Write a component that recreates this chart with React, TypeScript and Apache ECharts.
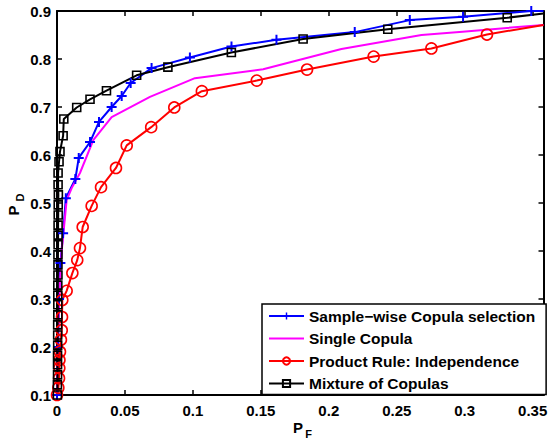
import { useEffect, useRef } from "react";
import * as echarts from "echarts";

const X_MAX = 0.358;
const Y_MIN = 0.1;
const Y_MAX = 0.9;
const X_INTERVAL = 0.05;
const Y_INTERVAL = 0.1;

const seriesNames = [
  "Sample\u2212wise Copula selection",
  "Single Copula",
  "Product Rule: Independence",
  "Mixture of Copulas",
];

const sampleWise: [number, number][] = [
  [0, 0.1], [0.0008, 0.2], [0.0015, 0.3], [0.0025, 0.375], [0.0045, 0.437],
  [0.0065, 0.51], [0.0135, 0.55], [0.016, 0.594], [0.0243, 0.627], [0.0309, 0.669],
  [0.0402, 0.7], [0.0476, 0.723], [0.0542, 0.75], [0.0696, 0.781], [0.0978, 0.803],
  [0.1284, 0.826], [0.1615, 0.84], [0.2191, 0.856], [0.2596, 0.881], [0.2988, 0.888],
  [0.349, 0.9], [0.358, 0.9],
];

const singleCopula: [number, number][] = [
  [0, 0.1], [0.0006, 0.2], [0.0015, 0.3], [0.0035, 0.402], [0.0071, 0.506],
  [0.0108, 0.531], [0.0169, 0.5625], [0.0267, 0.631], [0.0402, 0.679], [0.0684, 0.721],
  [0.1015, 0.76], [0.1517, 0.7785], [0.2093, 0.821], [0.2682, 0.85], [0.2985, 0.857],
  [0.358, 0.871],
];

const productRule: [number, number][] = [
  [0, 0.1], [0.001, 0.115], [0.0015, 0.135], [0.0017, 0.156], [0.0018, 0.173],
  [0.0022, 0.19], [0.0029, 0.215], [0.0035, 0.235], [0.0037, 0.2625], [0.0039, 0.298],
  [0.0071, 0.317], [0.0113, 0.354], [0.0149, 0.381], [0.0169, 0.406], [0.0189, 0.45],
  [0.0255, 0.494], [0.0324, 0.533], [0.0434, 0.573], [0.0513, 0.62], [0.0693, 0.658],
  [0.0863, 0.699], [0.1066, 0.733], [0.147, 0.755], [0.184, 0.778], [0.233, 0.805],
  [0.2755, 0.822], [0.3164, 0.851], [0.358, 0.871],
];

const mixture: [number, number][] = [
  [0.0003, 0.1], [0.0003, 0.121], [0.0004, 0.142], [0.0004, 0.163], [0.0004, 0.183],
  [0.0005, 0.204], [0.0005, 0.225], [0.0005, 0.246], [0.0006, 0.267], [0.0006, 0.288],
  [0.0006, 0.308], [0.0006, 0.329], [0.0007, 0.35], [0.0007, 0.371], [0.0007, 0.392],
  [0.0008, 0.413], [0.0008, 0.433], [0.0008, 0.454], [0.0009, 0.475], [0.0009, 0.496],
  [0.001, 0.517], [0.0008, 0.538], [0.0008, 0.5625], [0.0015, 0.586], [0.0022, 0.607],
  [0.0045, 0.64], [0.005, 0.675], [0.0145, 0.699], [0.0243, 0.716], [0.0364, 0.734],
  [0.0586, 0.766], [0.0816, 0.783], [0.1283, 0.8135], [0.1811, 0.8417], [0.2434, 0.862],
  [0.3313, 0.886], [0.358, 0.895],
];

const FONT = '"Liberation Sans", Arial, Helvetica, sans-serif';
const PLUS = "path://M4,0H6V4H10V6H6V10H4V6H0V4H4Z";

function toData(pts: [number, number][]) {
  return pts.map(([x, y]) =>
    x >= X_MAX - 1e-9 ? { value: [x, y], symbol: "none" } : [x, y]
  );
}

export default function App() {
  const ref = useRef<HTMLDivElement>(null);
  useEffect(() => {
    const chart = echarts.init(ref.current!, null, { renderer: "svg" });
    const axisCommon = {
      axisLine: { show: true, onZero: false, lineStyle: { color: "#000", width: 2 } },
      axisTick: { show: true, inside: true, length: 5, lineStyle: { color: "#000", width: 1.5 } },
      splitLine: { show: false },
    };
    const xFmt = (v: number) =>
      Math.abs(v / X_INTERVAL - Math.round(v / X_INTERVAL)) < 1e-6 ? String(Math.round(v * 100) / 100) : "";
    const yFmt = (v: number) => (Math.round(v * 10) / 10).toFixed(1);
    chart.setOption({
      animation: false,
      backgroundColor: "#fff",
      grid: { left: 57, top: 11, right: 10.5, bottom: 53, containLabel: false },
      xAxis: [
        {
          type: "value", min: 0, max: X_MAX, interval: X_INTERVAL, position: "bottom",
          ...axisCommon,
          axisLabel: { formatter: xFmt, margin: 8, color: "#000", fontSize: 15, fontWeight: "bold", fontFamily: FONT, showMaxLabel: false },
        },
        {
          type: "value", min: 0, max: X_MAX, interval: X_INTERVAL, position: "top",
          ...axisCommon,
          axisLabel: { show: false },
        },
      ],
      yAxis: [
        {
          type: "value", min: Y_MIN, max: Y_MAX, interval: Y_INTERVAL, position: "left",
          ...axisCommon,
          axisLabel: { formatter: yFmt, margin: 6, color: "#000", fontSize: 15, fontWeight: "bold", fontFamily: FONT },
        },
        {
          type: "value", min: Y_MIN, max: Y_MAX, interval: Y_INTERVAL, position: "right",
          ...axisCommon,
          axisLabel: { show: false },
        },
      ],
      legend: {
        orient: "vertical",
        left: 262,
        top: 304,
        padding: [4, 11, 3, 6],
        itemWidth: 35,
        itemHeight: 9,
        itemGap: 6.5,
        backgroundColor: "#fff",
        borderColor: "#000",
        borderWidth: 1.5,
        borderRadius: 0,
        textStyle: { fontSize: 15.5, fontWeight: "bold", color: "#000", fontFamily: FONT, lineHeight: 16 },
        data: [
          seriesNames[0],
          { name: seriesNames[1], itemStyle: { color: "transparent", borderColor: "transparent", borderWidth: 0, opacity: 0 } },
          seriesNames[2],
          seriesNames[3],
        ],
      },
      graphic: [
        { type: "text", x: 298, y: 427, style: { text: "P", fontSize: 15, fontWeight: "bold", fontFamily: FONT, fill: "#000", align: "center", verticalAlign: "middle" } },
        { type: "text", x: 308.5, y: 434, style: { text: "F", fontSize: 11, fontWeight: "bold", fontFamily: FONT, fill: "#000", align: "center", verticalAlign: "middle" } },
        { type: "text", x: 13, y: 210.5, rotation: Math.PI / 2, style: { text: "P", fontSize: 15, fontWeight: "bold", fontFamily: FONT, fill: "#000", align: "center", verticalAlign: "middle" } },
        { type: "text", x: 20, y: 197.5, rotation: Math.PI / 2, style: { text: "D", fontSize: 11, fontWeight: "bold", fontFamily: FONT, fill: "#000", align: "center", verticalAlign: "middle" } },
      ],
      series: [
        {
          name: seriesNames[0], type: "line", data: toData(sampleWise),
          symbol: PLUS, symbolSize: 10, showAllSymbol: true,
          lineStyle: { color: "#0000ff", width: 2 },
          itemStyle: { color: "#0000ff" },
          emphasis: { disabled: true },
        },
        {
          name: seriesNames[1], type: "line", data: toData(singleCopula),
          symbol: "none", showSymbol: false,
          lineStyle: { color: "#ff00ff", width: 2 },
          itemStyle: { color: "#ff00ff" },
          emphasis: { disabled: true },
        },
        {
          name: seriesNames[2], type: "line", data: toData(productRule),
          symbol: "circle", symbolSize: 11, showAllSymbol: true,
          lineStyle: { color: "#ff0000", width: 2 },
          itemStyle: { color: "transparent", borderColor: "#ff0000", borderWidth: 1.6 },
          emphasis: { disabled: true },
        },
        {
          name: seriesNames[3], type: "line", data: toData(mixture),
          symbol: "rect", symbolSize: 8, showAllSymbol: true,
          lineStyle: { color: "#000", width: 2 },
          itemStyle: { color: "transparent", borderColor: "#000", borderWidth: 1.6 },
          emphasis: { disabled: true },
        },
      ],
    });
    return () => chart.dispose();
  }, []);
  return <div ref={ref} style={{ position: "absolute", left: 0, top: 0, width: 554, height: 448 }} />;
}
